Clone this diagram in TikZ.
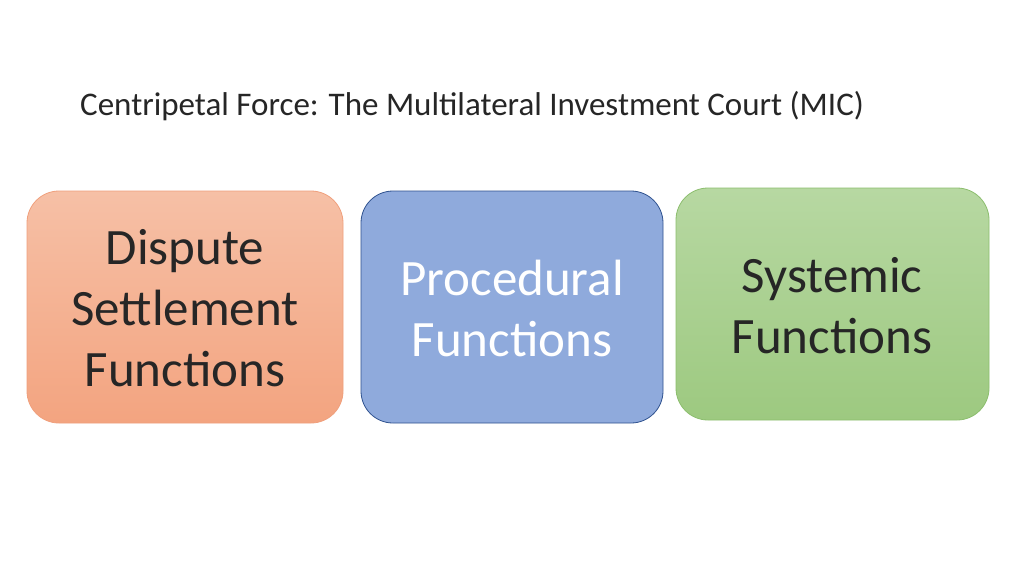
\documentclass[tikz,border=0pt]{standalone}
\usepackage{fontspec}
\setmainfont{Carlito}
\begin{document}
\begin{tikzpicture}[x=1pt,y=-1pt,
  boxtext/.style={align=center,font=\fontsize{51}{61}\selectfont},
  rbox/.style={rounded corners=32pt,line width=0.8pt}]
\useasboundingbox[fill=white] (0,0) rectangle (1024,576);
\node[anchor=base west,font=\fontsize{33}{40}\selectfont,text=black!85,inner sep=0pt] (title) at (80,115) {Centripetal Force: The Multilateral Investment Court (MIC)};
\shade[rbox,top color={rgb,255:red,246;green,192;blue,166},bottom color={rgb,255:red,243;green,164;blue,128}] (27,191) rectangle (343,423);
\draw[rbox,draw={rgb,255:red,240;green,160;blue,125}] (27,191) rectangle (343,423);
\fill[rbox,fill={rgb,255:red,143;green,170;blue,220}] (361,191) rectangle (663,423);
\draw[rbox,draw={rgb,255:red,47;green,82;blue,143}] (361,191) rectangle (663,423);
\shade[rbox,top color={rgb,255:red,183;green,216;blue,162},bottom color={rgb,255:red,157;green,201;blue,128}] (676,188) rectangle (989,420);
\draw[rbox,draw={rgb,255:red,140;green,190;blue,110}] (676,188) rectangle (989,420);
\node[boxtext,text=black!85] (a) at (185,308) {Dispute\\Settlement\\Functions};
\node[boxtext,text=white] (b) at (512,308) {Procedural\\Functions};
\node[boxtext,text=black!85] (c) at (832,306) {Systemic\\Functions};
\end{tikzpicture}
\end{document}
